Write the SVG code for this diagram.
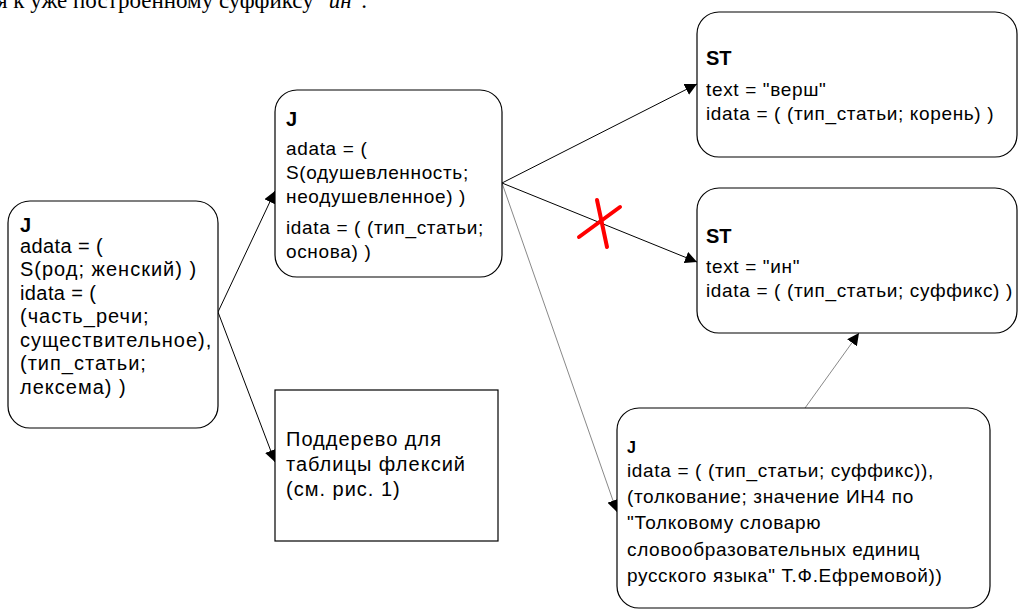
<svg xmlns="http://www.w3.org/2000/svg" width="1019" height="612" viewBox="0 0 1019 612">
<defs>
<style>
.box{fill:#fff;stroke:#000;stroke-width:1.2}
.t{font-family:"Liberation Sans",Arial,sans-serif;font-size:19px;letter-spacing:0.65px;fill:#000}
.w{font-family:"Liberation Sans",Arial,sans-serif;font-size:20px;letter-spacing:1px;fill:#000}
.b{font-family:"Liberation Sans",Arial,sans-serif;font-size:20px;font-weight:bold;fill:#000}
.c{fill:none;stroke:#000;stroke-width:1}
.g{fill:none;stroke:#555;stroke-width:0.7}
.top{font-family:"Liberation Serif","Times New Roman",serif;font-size:23px;fill:#000}
</style>
<marker id="ah" viewBox="0 0 10 10" refX="10" refY="5" markerWidth="12" markerHeight="12" markerUnits="userSpaceOnUse" orient="auto">
<path d="M0,0 L10,5 L0,10 z" fill="#000"/>
</marker>
</defs>
<rect width="1019" height="612" fill="#fff"/>
<text class="top" x="-3" y="8">я к уже построенному суффиксу "<tspan font-style="italic">ин</tspan>".</text>

<g id="connectors">
<line class="c" x1="218" y1="312" x2="275" y2="191" marker-end="url(#ah)"/>
<line class="c" x1="218" y1="312" x2="275" y2="462" marker-end="url(#ah)"/>
<line class="c" x1="502" y1="183" x2="697" y2="84" marker-end="url(#ah)"/>
<line class="c" x1="502" y1="183" x2="697" y2="262" marker-end="url(#ah)"/>
<line class="g" x1="502" y1="183" x2="617" y2="512" marker-end="url(#ah)"/>
<line class="g" x1="805" y1="408" x2="859" y2="333" marker-end="url(#ah)"/>
<g id="cross" stroke="#f00" stroke-width="4" stroke-linecap="round">
<line x1="579" y1="237" x2="620" y2="207"/>
<line x1="597" y1="200" x2="607" y2="247"/>
</g>
</g>

<g id="n_left">
<rect class="box" x="8" y="201" width="210" height="227" rx="22"/>
<text class="b" x="20" y="232">J</text>
<text class="w" x="20" y="253" style="letter-spacing:0.4px">adata =  (</text>
<text class="w" x="20" y="276">S(род; женский) )</text>
<text class="w" x="20" y="300" style="letter-spacing:0.4px">idata = (</text>
<text class="w" x="20" y="323">(часть_речи;</text>
<text class="w" x="20" y="347">существительное),</text>
<text class="w" x="20" y="370">(тип_статьи;</text>
<text class="w" x="20" y="394">лексема) )</text>
</g>

<g id="n_mid">
<rect class="box" x="275" y="90" width="227" height="187" rx="22"/>
<text class="b" x="286" y="126">J</text>
<text class="t" x="286" y="155">adata =  (</text>
<text class="t" x="286" y="179">S(одушевленность;</text>
<text class="t" x="286" y="203">неодушевленное) )</text>
<text class="t" x="286" y="234">idata = ( (тип_статьи;</text>
<text class="t" x="286" y="258">основа) )</text>
</g>

<g id="n_st1">
<rect class="box" x="697" y="12" width="320" height="145" rx="22"/>
<text class="b" x="706" y="65">ST</text>
<text class="t" x="706" y="96">text = "верш"</text>
<text class="t" x="706" y="120">idata = ( (тип_статьи; корень) )</text>
</g>

<g id="n_st2">
<rect class="box" x="697" y="188" width="320" height="145" rx="22"/>
<text class="b" x="706" y="243">ST</text>
<text class="t" x="706" y="273">text = "ин"</text>
<text class="t" x="706" y="297">idata = ( (тип_статьи; суффикс) )</text>
</g>

<g id="n_sub">
<rect class="box" x="275" y="390" width="223" height="151"/>
<text class="w" x="286" y="446">Поддерево для</text>
<text class="w" x="286" y="471">таблицы флексий</text>
<text class="w" x="286" y="496">(см. рис. 1)</text>
</g>

<g id="n_bot">
<rect class="box" x="617" y="408" width="373" height="200" rx="22"/>
<text class="b" x="627" y="453" style="font-size:16px">J</text>
<text class="t" x="627" y="477">idata = ( (тип_статьи; суффикс)),</text>
<text class="t" x="627" y="503">(толкование; значение ИН4 по</text>
<text class="t" x="627" y="529">"Толковому словарю</text>
<text class="t" x="627" y="556">словообразовательных единиц</text>
<text class="t" x="627" y="582">русского языка" Т.Ф.Ефремовой))</text>
</g>
</svg>
